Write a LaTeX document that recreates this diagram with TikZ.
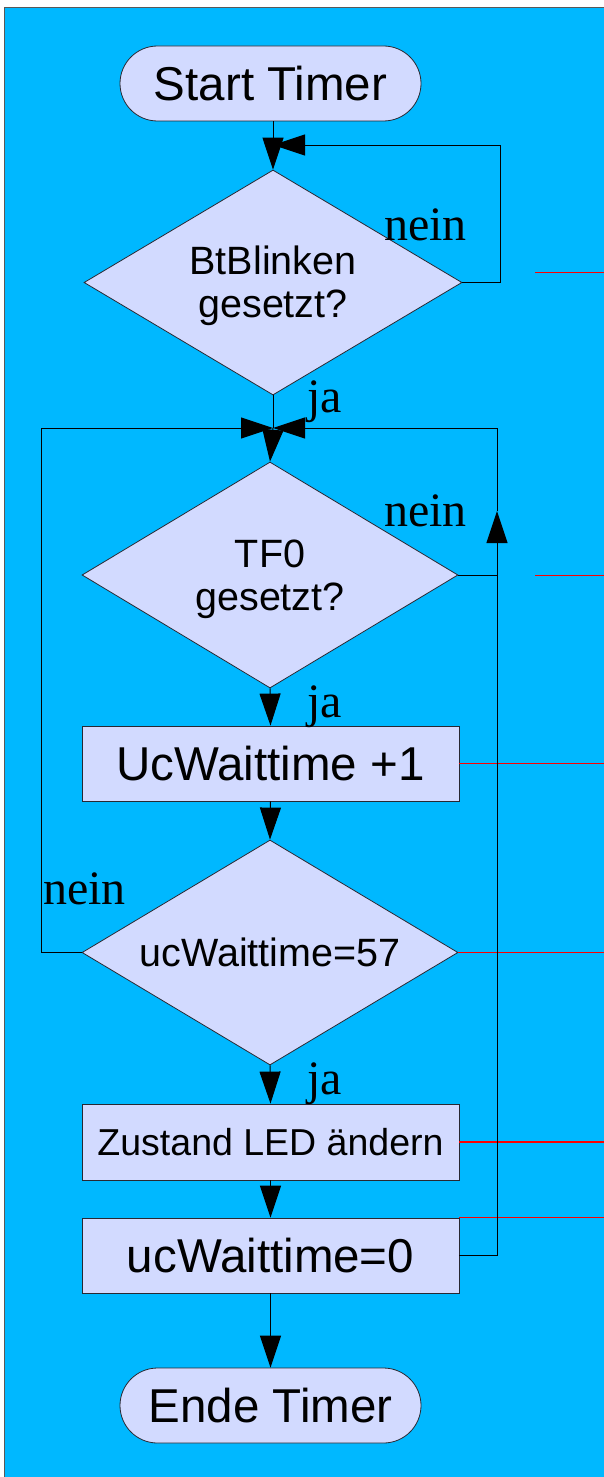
\documentclass[tikz,border=0pt]{standalone}
\usepackage{fontspec}
\newfontfamily\lsans{Liberation Sans}
\newfontfamily\lserif{Liberation Serif}
\usetikzlibrary{shapes.geometric,arrows.meta}
\definecolor{bgblue}{RGB}{0,184,255}
\definecolor{boxfill}{RGB}{210,218,255}
\definecolor{edge}{RGB}{40,40,50}
\definecolor{flow}{RGB}{0,0,0}
\begin{document}
\begin{tikzpicture}[x=1pt,y=-1pt,
  box/.style={draw=edge, line width=0.8pt, fill=boxfill, minimum width=377pt,
    minimum height=75pt, inner sep=0pt, font=\lsans\fontsize{47.5}{56}\selectfont},
  term/.style={box, rounded corners=37.5pt, minimum width=301pt},
  dia/.style={diamond, draw=edge, line width=0.8pt, fill=boxfill, inner sep=0pt,
    minimum width=376pt, minimum height=225pt},
  diatext/.style={align=center, inner sep=0pt, font=\lsans\fontsize{39.5}{43}\selectfont},
  flowline/.style={draw=flow, line width=1pt},
  arr/.style={flowline, -{Triangle[length=32pt,width=21pt]}},
  lab/.style={anchor=base west, inner sep=0pt, font=\lserif\fontsize{48}{56}\selectfont},
  redline/.style={draw=red, line width=1.4pt}
]
\useasboundingbox (0,0) rectangle (604,1477);

% page and sheet
\fill[white] (0,0) rectangle (604,1477);
\fill[bgblue] (4.5,7.5) rectangle (604,1477);
\draw[gray!70!black, line width=0.8pt] (4.5,1477) -- (4.5,7.5) -- (604,7.5);

% flowchart elements
\node[term] (start) at (270.5,83.5) {Start Timer};
\node[dia, minimum width=378pt] (d1) at (273,282.5) {};
\node[diatext, yshift=-3pt] at (d1) {BtBlinken\\gesetzt?};
\node[dia, minimum height=226pt] (d2) at (270,575) {};
\node[diatext, yshift=-4pt] at (d2) {TF0\\gesetzt?};
\node[box] (b1) at (270.5,763.5) {UcWaittime +1};
\node[dia] (d3) at (270,952.5) {};
\node[diatext] at (d3) {ucWaittime=57};
\node[box, minimum height=76pt, font=\lsans\fontsize{37.5}{44}\selectfont] (b2) at (270.5,1142) {Zustand LED ändern};
\node[box] (b3) at (270.5,1255.5) {ucWaittime=0};
\node[term] (end) at (270.5,1405.5) {Ende Timer};

% junction points
\coordinate (j1) at (273,145);
\coordinate (j2) at (273,428);
\coordinate (rk) at (497,511);
\coordinate (re) at (604,0);

% red guide lines
\draw[redline] (535,272.5) -- (604,272.5);
\draw[redline] (535,575.5) -- (604,575.5);
\draw[redline] (b1.east) -- (b1.east -| re);
\draw[redline] (d3.east) -- (d3.east -| re);
\draw[redline] (b2.east) -- (b2.east -| re);
\draw[redline, line width=1.1pt] (b3.north east) -- (b3.north east -| re);

% connectors
\draw[arr] (start.south -| d1.north) -- (d1.north);
\draw[arr] (d1.east) -- ++(38,0) |- (j1);
\draw[flowline] (d1.south) -- (j2);
\draw[arr] (j2) -- (d2.north);
\draw[arr] (d3.west) -- ++(-40,0) |- (j2);
\draw[arr] (b3.east) -| (rk);
\draw[arr] (rk) |- (j2);
\draw[flowline] (d2.east) -- (d2.east -| rk);
\draw[arr] (d2.south) -- (b1.north);
\draw[arr] (b1.south) -- (d3.north);
\draw[arr] (d3.south) -- (b2.north);
\draw[arr] (b2.south) -- (b3.north);
\draw[arr] (b3.south) -- (end.north);

% branch labels
\node[lab] (n1) at (384,240) {nein};
\node[lab] (n2) at (384,526) {nein};
\node[lab] (n3) at (43,904) {nein};
\node[lab] (ja1) at (307,412) {ja};
\node[lab] (ja2) at (307,717) {ja};
\node[lab] (ja3) at (307,1094) {ja};
\end{tikzpicture}
\end{document}
